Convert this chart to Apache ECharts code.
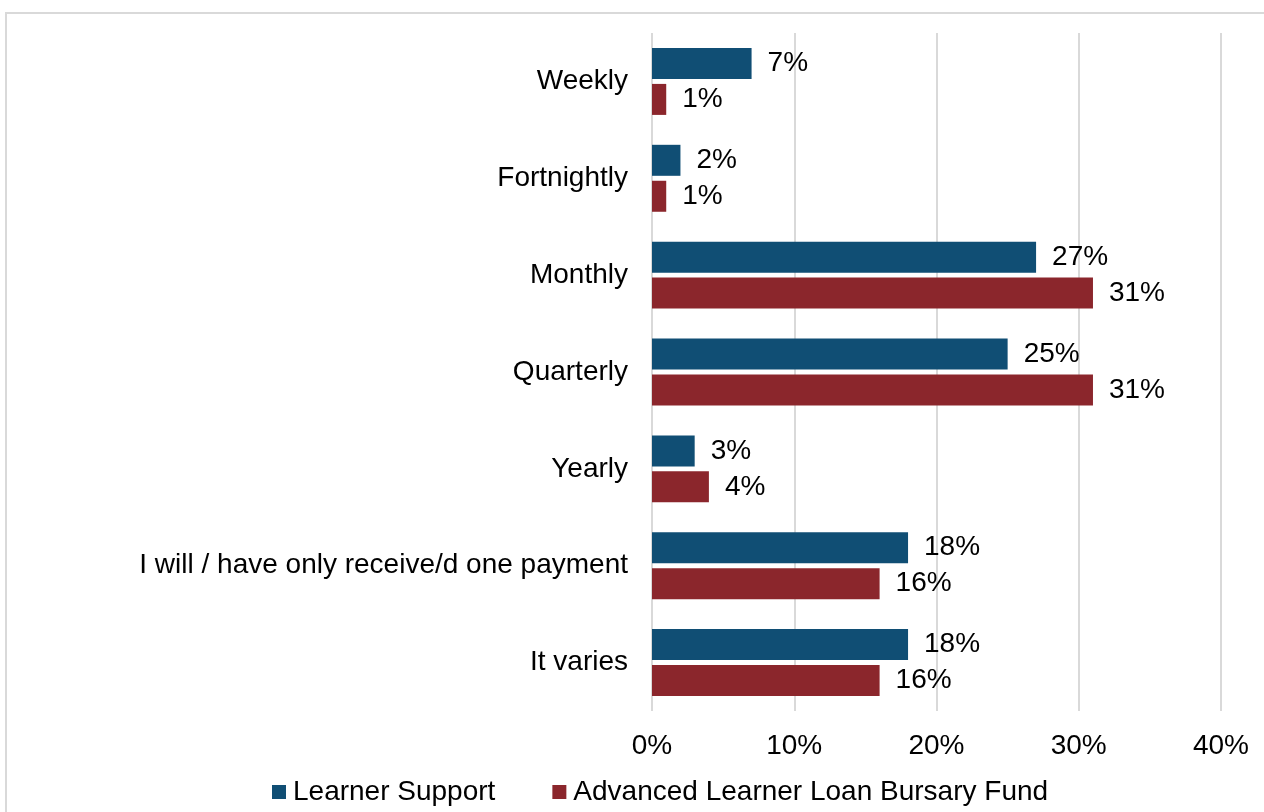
<!DOCTYPE html>
<html>
<head>
<meta charset="utf-8">
<script src="https://cdn.jsdelivr.net/npm/echarts@6/dist/echarts.min.js"></script>
<style>html,body{margin:0;padding:0;background:#fff;}#c{width:1264px;height:812px;}</style>
</head>
<body>
<div id="c"></div>
<script>
const categories = ["Weekly", "Fortnightly", "Monthly", "Quarterly", "Yearly", "I will / have only receive/d one payment", "It varies"];
const learnerSupport = [7, 2, 27, 25, 3, 18, 18];
const bursaryFund = [1, 1, 31, 31, 4, 16, 16];
const xTicks = [0, 10, 20, 30, 40];
const seriesNames = ["Learner Support", "Advanced Learner Loan Bursary Fund"];

const FONT = '"Liberation Sans", Arial, sans-serif';
const FS = 28;
const chart = echarts.init(document.getElementById('c'));
chart.setOption({
  animation: false,
  backgroundColor: '#ffffff',
  graphic: [{
    type: 'rect',
    shape: { x: 6, y: 13, width: 1270, height: 810 },
    style: { fill: 'none', stroke: '#d9d9d9', lineWidth: 2 },
    silent: true, z: -1
  }],
  grid: { left: 652, right: 43, top: 33, bottom: 101, containLabel: false },
  legend: {
    left: 267, bottom: 1,
    itemWidth: 14, itemHeight: 14, itemGap: 57,
    icon: 'rect',
    textStyle: { fontFamily: FONT, fontSize: FS, color: '#000', padding: [0, 0, 0, 2] },
    data: seriesNames
  },
  xAxis: {
    type: 'value', min: xTicks[0], max: xTicks[xTicks.length - 1], interval: 10,
    axisLine: { show: false }, axisTick: { show: false },
    splitLine: { lineStyle: { color: '#d9d9d9', width: 2 } },
    axisLabel: { formatter: v => v + '%', fontFamily: FONT, fontSize: FS, color: '#000', margin: 21 }
  },
  yAxis: {
    type: 'category', data: categories, inverse: true,
    axisLine: { show: false }, axisTick: { show: false },
    axisLabel: { fontFamily: FONT, fontSize: FS, color: '#000', margin: 24 }
  },
  series: [
    {
      name: seriesNames[0], type: 'bar', data: learnerSupport,
      barWidth: 31, barGap: '16%',
      itemStyle: { color: '#104e74' },
      label: { show: true, position: 'right', distance: 16, formatter: '{c}%', fontFamily: FONT, fontSize: FS, color: '#000' }
    },
    {
      name: seriesNames[1], type: 'bar', data: bursaryFund,
      barWidth: 31, barGap: '16%',
      itemStyle: { color: '#8b262c' },
      label: { show: true, position: 'right', distance: 16, formatter: '{c}%', fontFamily: FONT, fontSize: FS, color: '#000' }
    }
  ]
});
</script>
</body>
</html>
